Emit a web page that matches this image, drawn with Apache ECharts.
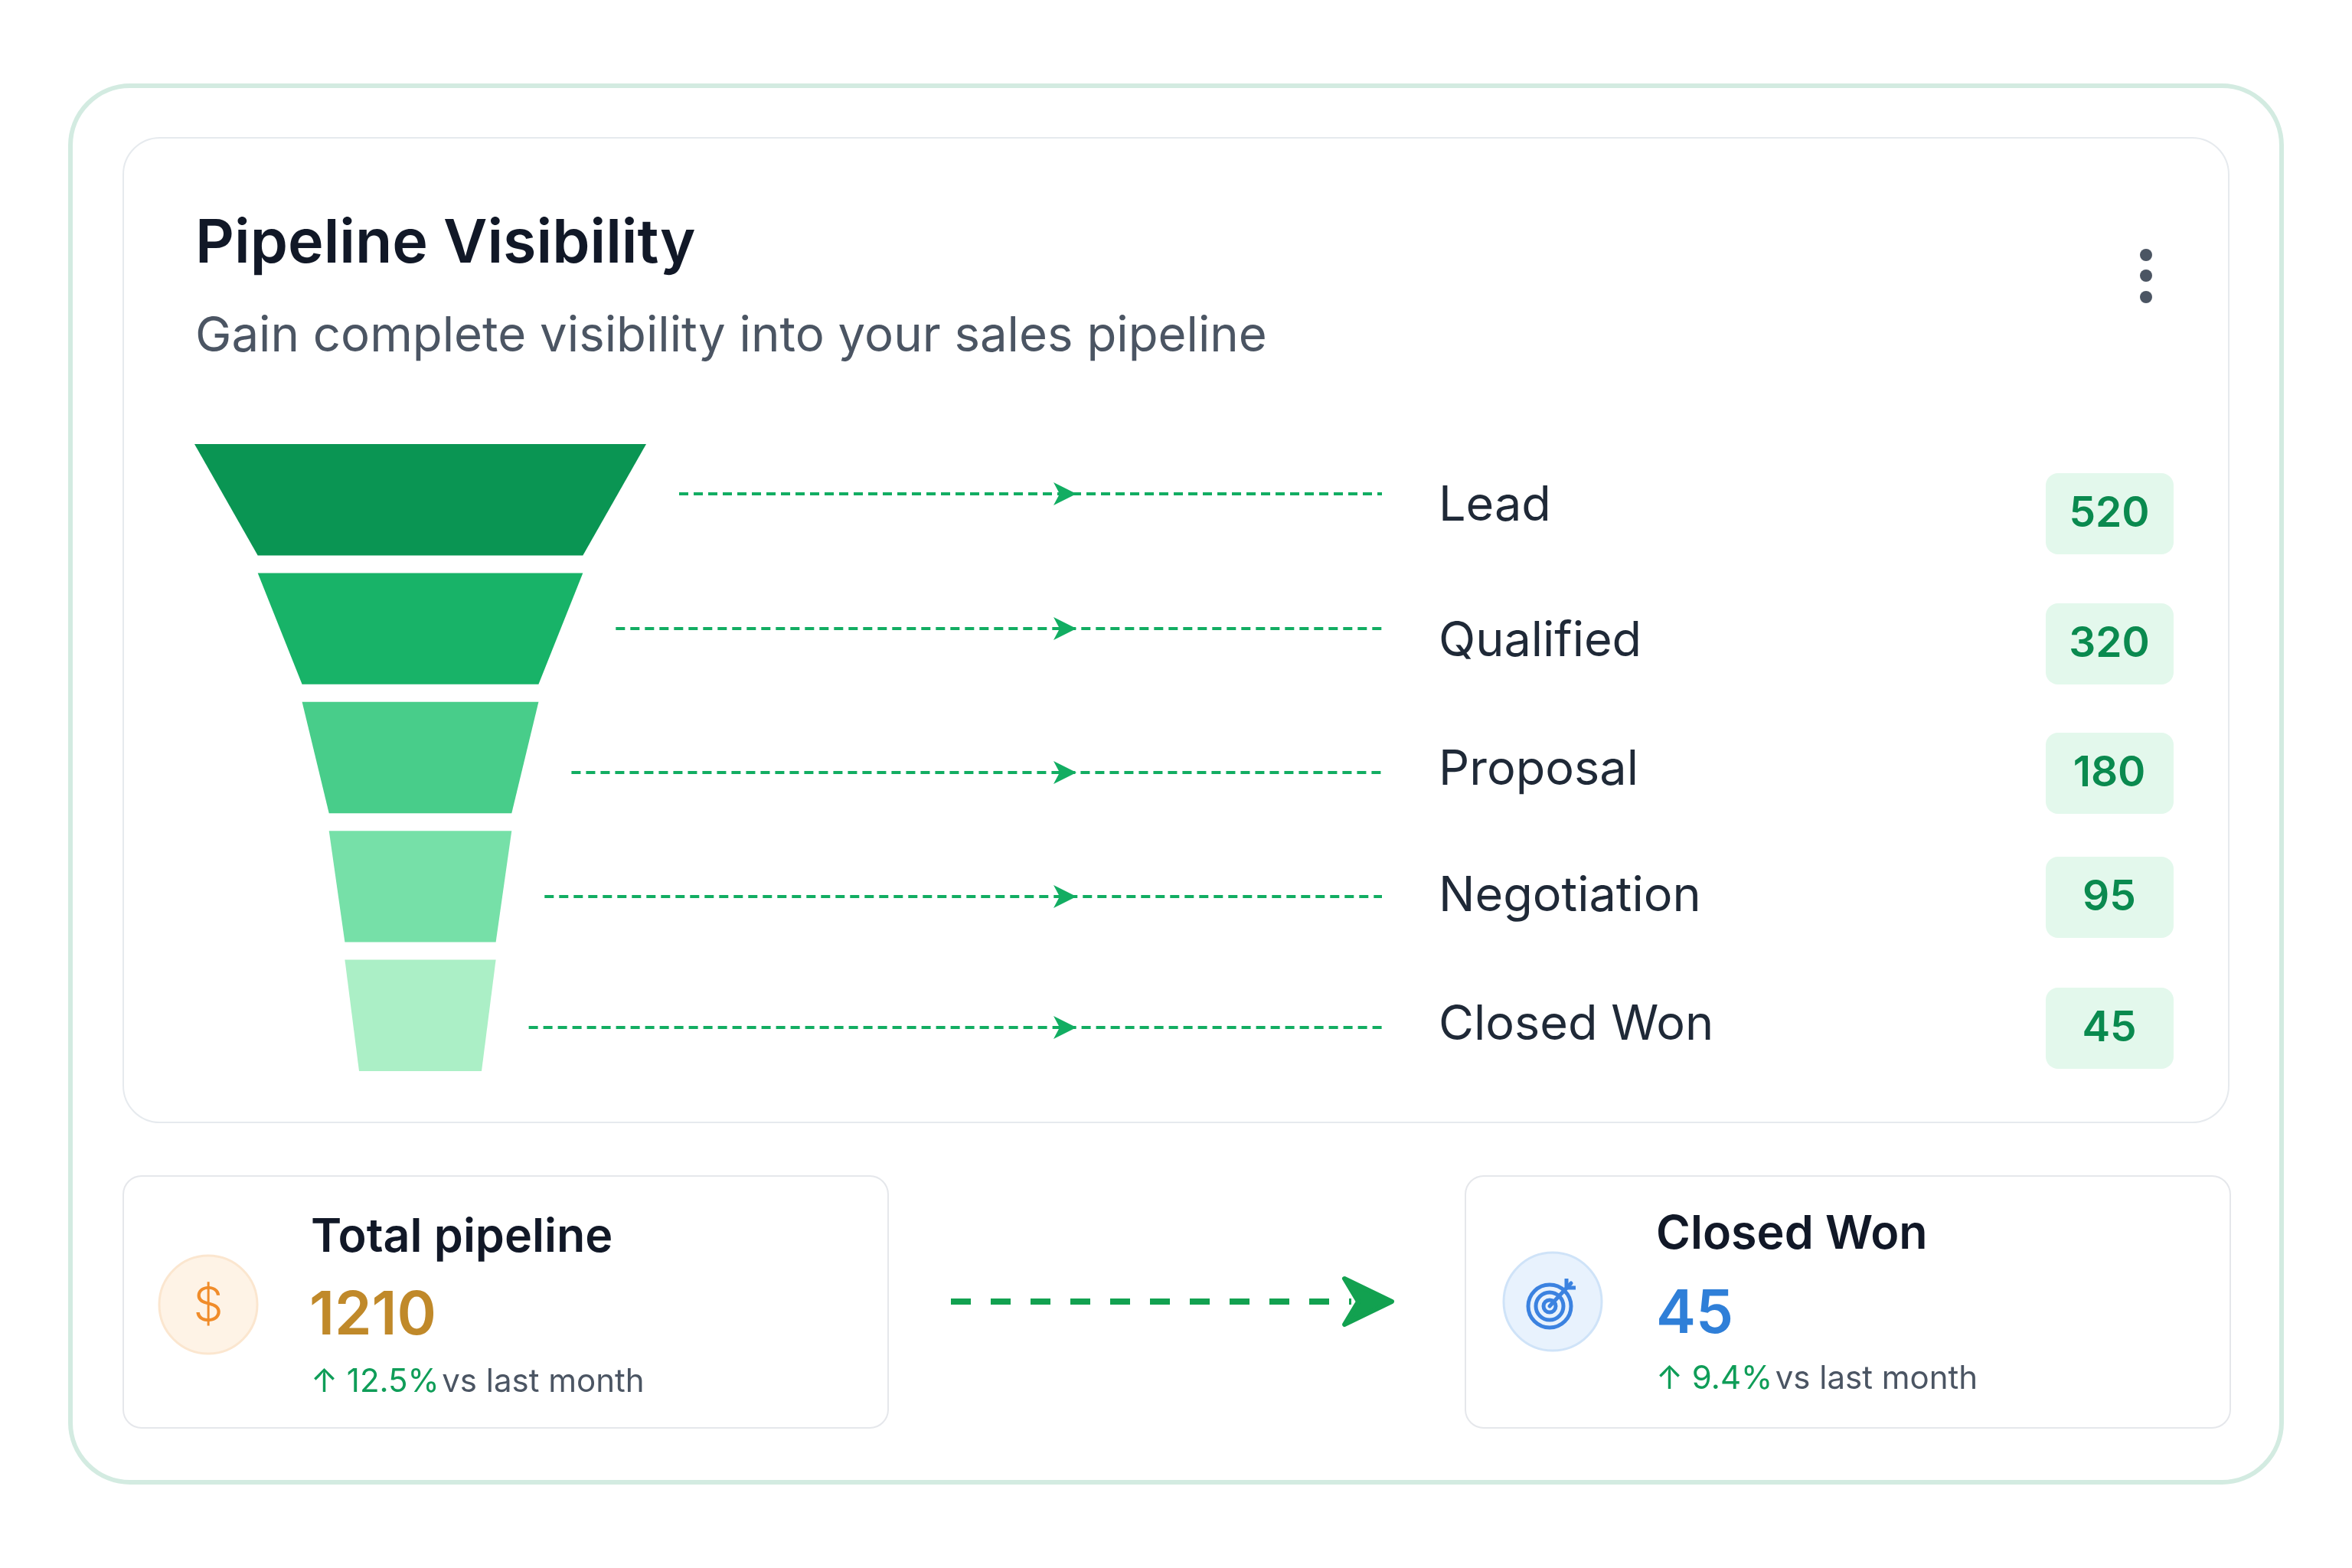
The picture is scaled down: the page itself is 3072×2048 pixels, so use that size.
<!DOCTYPE html>
<html><head><meta charset="utf-8">
<script src="https://cdn.jsdelivr.net/npm/echarts@6/dist/echarts.min.js"></script>
<style>html,body{margin:0;padding:0;background:#fff}#c{width:3072px;height:2048px}</style>
</head><body><div id="c"></div>
<script>
const stages = ['Lead','Qualified','Proposal','Negotiation','Closed Won'];
const counts = [520,320,180,95,45];
const stageColors = ['#0a9553','#18b368','#48cd8a','#76e0a8','#abefc6'];
const totalPipeline = 1210;
const totalChange = '12.5%';
const wonCount = 45;
const wonChange = '9.4%';

const F = 'Inter, "Noto Sans", sans-serif';
const chart = echarts.init(document.getElementById('c'), null, {renderer:'canvas'});

const fTop = 580, fHeight = 819, fGap = 23, fCx = 549, maxSize = 590, minSize = 160, fMax = 520;
const n = counts.length;
const pieceH = (fHeight - fGap*(n-1))/n;
function wOf(v){ return minSize + (maxSize-minSize)*Math.min(v,fMax)/fMax; }

const g = [];
g.push({type:'rect',shape:{x:92,y:112,width:2888,height:1824,r:78},style:{fill:'#fff',stroke:'#d3ebe1',lineWidth:6},z:0});
g.push({type:'rect',shape:{x:161,y:180,width:2750,height:1286,r:48},style:{fill:'#fff',stroke:'#e6eaee',lineWidth:2},z:1});
g.push({type:'text',x:255,y:319,style:{text:'Pipeline Visibility',font:'600 79px '+F,fill:'#111827',textVerticalAlign:'middle'},z:5});
g.push({type:'text',x:255,y:440,style:{text:'Gain complete visibility into your sales pipeline',font:'400 63.5px '+F,fill:'#4b5563',textVerticalAlign:'middle'},z:5});
[333,360,388].forEach(y=>g.push({type:'circle',shape:{cx:2803,cy:y,r:8},style:{fill:'#4b5563'},z:5}));

const lineY = [645,821,1009,1171,1342];
const labelY = [661,838,1006,1171,1339];
const badgeY = [671,841,1010,1172,1343];
for(let i=0;i<n;i++){
  const wt = wOf(counts[i]);
  const xr = fCx + wt/2 + 43;
  const ly = lineY[i];
  g.push({type:'line',shape:{x1:xr,y1:ly,x2:1805,y2:ly},style:{stroke:'#12ad62',lineWidth:4,lineDash:[12,7]},z:5});
  g.push({type:'polygon',shape:{points:[[1376,ly-15],[1406,ly],[1376,ly+15],[1384,ly]]},style:{fill:'#12ad62'},z:6});
  g.push({type:'text',x:1879,y:labelY[i],style:{text:stages[i],font:'400 63px '+F,fill:'#1f2937',textVerticalAlign:'middle'},z:5});
  g.push({type:'rect',shape:{x:2672,y:badgeY[i]-53,width:167,height:106,r:16},style:{fill:'#e3f8ec'},z:5});
  g.push({type:'text',x:2755,y:badgeY[i],style:{text:String(counts[i]),font:'600 55px '+F,fill:'#0a8a4f',textAlign:'center',textVerticalAlign:'middle'},z:6});
}

g.push({type:'rect',shape:{x:161,y:1536,width:999,height:329,r:24},style:{fill:'#fff',stroke:'#e5e7eb',lineWidth:2},z:1});
g.push({type:'rect',shape:{x:1914,y:1536,width:999,height:329,r:24},style:{fill:'#fff',stroke:'#e5e7eb',lineWidth:2},z:1});
g.push({type:'circle',shape:{cx:272,cy:1704,r:64},style:{fill:'#fef3e6',stroke:'#fbe6cf',lineWidth:3},z:3});
g.push({type:'text',x:272,y:1706,style:{text:'$',font:'300 62px '+F,fill:'#f08c2a',textAlign:'center',textVerticalAlign:'middle'},z:4});
g.push({type:'text',x:406,y:1617,style:{text:'Total pipeline',font:'600 61px '+F,fill:'#111827',textVerticalAlign:'middle'},z:4});
g.push({type:'text',x:404,y:1720,style:{text:String(totalPipeline),font:'600 78px '+F,fill:'#c0892a',textVerticalAlign:'middle'},z:4});
g.push({type:'text',x:406,y:1805,style:{rich:{a:{font:'400 42px '+F,fill:'#0f9d58'},b:{font:'400 42px '+F,fill:'#4b5563'}},text:'{a|↑ '+totalChange+'} {b|vs last month}',textVerticalAlign:'middle'},z:4});

g.push({type:'circle',shape:{cx:2028,cy:1700,r:64},style:{fill:'#e8f2fd',stroke:'#cfe3f8',lineWidth:3},z:3});
[28,18,8].forEach(r=>g.push({type:'circle',shape:{cx:2024,cy:1706,r:r},style:{fill:'none',stroke:'#3b82e0',lineWidth:5},z:4}));
g.push({type:'line',shape:{x1:2024,y1:1706,x2:2052,y2:1676},style:{stroke:'#3b82e0',lineWidth:5,lineCap:'round'},z:4});
g.push({type:'polyline',shape:{points:[[2046,1670],[2046,1682],[2058,1682]]},style:{stroke:'#3b82e0',lineWidth:5,fill:'none'},z:4});
g.push({type:'text',x:2163,y:1613,style:{text:'Closed Won',font:'600 61px '+F,fill:'#111827',textVerticalAlign:'middle'},z:4});
g.push({type:'text',x:2163,y:1718,style:{text:String(wonCount),font:'600 78px '+F,fill:'#2f7fd8',textVerticalAlign:'middle'},z:4});
g.push({type:'text',x:2163,y:1801,style:{rich:{a:{font:'400 42px '+F,fill:'#0f9d58'},b:{font:'400 42px '+F,fill:'#4b5563'}},text:'{a|↑ '+wonChange+'} {b|vs last month}',textVerticalAlign:'middle'},z:4});

g.push({type:'line',shape:{x1:1242,y1:1700,x2:1765,y2:1700},style:{stroke:'#12a150',lineWidth:8,lineDash:[26,26]},z:4});
g.push({type:'polygon',shape:{points:[[1756,1670],[1818,1700],[1756,1730],[1774,1700]]},style:{fill:'#12a150',stroke:'#12a150',lineWidth:6,lineJoin:'round'},z:4});

chart.setOption({
  animation:false,
  graphic:{elements:g},
  series:[{
    type:'funnel', sort:'none', z:5,
    left:fCx-maxSize/2, top:fTop, width:maxSize, height:fHeight,
    min:0, max:fMax, minSize:minSize, maxSize:maxSize, gap:fGap, funnelAlign:'center',
    label:{show:false}, labelLine:{show:false},
    itemStyle:{borderWidth:0},
    data: stages.map((s,i)=>({name:s,value:counts[i],itemStyle:{color:stageColors[i]}}))
  }]
});
</script></body></html>
